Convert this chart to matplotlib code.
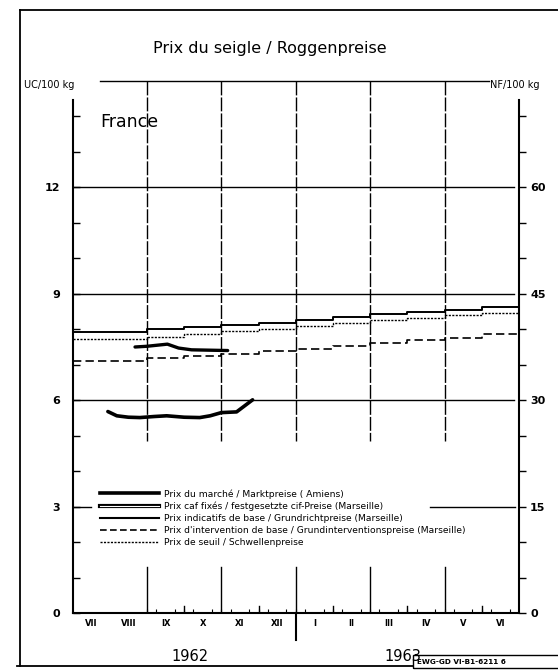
import numpy as np
import matplotlib.pyplot as plt
from matplotlib.lines import Line2D
from matplotlib.patches import Rectangle
from matplotlib.legend_handler import HandlerTuple
import matplotlib.transforms as mtransforms

# month boundaries: 0 = start of July 1962, 12 = end of June 1963
month_edges = np.arange(13)
month_labels = ['VII', 'VIII', 'IX', 'X', 'XI', 'XII', 'I', 'II', 'III', 'IV', 'V', 'VI']

# monthly step prices (UC / 100 kg), Marseille
indicatifs = [7.92, 7.92, 8.00, 8.06, 8.12, 8.18, 8.26, 8.34, 8.43, 8.49, 8.54, 8.62]
seuil = [7.73, 7.73, 7.78, 7.87, 7.95, 8.00, 8.09, 8.18, 8.26, 8.32, 8.40, 8.46]
intervention = [7.11, 7.11, 7.19, 7.25, 7.31, 7.39, 7.45, 7.53, 7.61, 7.70, 7.76, 7.87]

# market price, Amiens
marche_x = [0.95, 1.19, 1.50, 1.81, 2.20, 2.53, 3.00, 3.42, 3.70, 4.00, 4.41, 4.84]
marche_y = [5.68, 5.56, 5.52, 5.51, 5.54, 5.56, 5.52, 5.51, 5.56, 5.65, 5.67, 6.01]

# fixed cif prices, Marseille
caf_x = [1.68, 2.00, 2.55, 2.85, 3.20, 4.17]
caf_y = [7.50, 7.52, 7.58, 7.47, 7.42, 7.40]

left_ticks = [0, 3, 6, 9, 12]
right_ticks = [0, 15, 30, 45, 60]
nf_per_uc = 5

fig = plt.figure(figsize=(5.58, 6.72), dpi=100)
ax = fig.add_axes([0.13, 0.0878, 0.8, 0.7917])
ax.set_xlim(0, 12)
ax.set_ylim(0, 15)

def steps(v):
    return list(v) + [v[-1]]

ax.plot(month_edges, steps(indicatifs), drawstyle='steps-post', color='black', lw=1.4)
ax.plot(month_edges, steps(seuil), drawstyle='steps-post', color='black', lw=1.0, dashes=(1.5, 1))
ax.plot(month_edges, steps(intervention), drawstyle='steps-post', color='black', lw=1.2, dashes=(5, 2.5))
ax.plot(marche_x, marche_y, color='black', lw=2.6, solid_capstyle='round')
ax.plot(caf_x, caf_y, color='black', lw=2.4, solid_capstyle='round')

# grid
for v in [6, 9, 12]:
    ax.axhline(v, color='black', lw=1.0, xmax=0.99)
ax.plot([0, 0.5], [3, 3], color='black', lw=1.0)
ax.plot([9.6, 11.9], [3, 3], color='black', lw=1.0)
for m in [2, 4, 6, 8, 10]:
    ax.plot([m, m], [15, 4.85], color='black', lw=1.0, dashes=(10, 1.5))
    ax.plot([m, m], [1.3, 0], color='black', lw=1.0)
# year separator below the axis
ax.plot([6, 6], [0, -0.75], color='black', lw=1.5, clip_on=False)
# medium ticks at odd month boundaries
for m in [3, 5, 7, 9, 11]:
    ax.plot([m, m], [0, 0.2], color='black', lw=1.0)

# header line
ax.plot([0.75, 11.2], [15, 15], color='black', lw=1.0, clip_on=False)

# spines
for s in ['top', 'right']:
    ax.spines[s].set_visible(False)
ax.spines['left'].set_bounds(0, 14.45)
ax.spines['left'].set_linewidth(1.5)
ax.spines['bottom'].set_linewidth(1.5)

ax.set_yticks(np.arange(0, 15, 1))
ax.set_yticklabels([str(v) if v in left_ticks else '' for v in range(15)],
                   fontsize=8, fontweight='bold')
ax.tick_params(axis='y', direction='in', length=5, width=1, pad=9)

ax.set_xticks(np.arange(0.5, 12, 1))
ax.set_xticklabels(month_labels, fontsize=6, fontweight='bold')
ax.tick_params(axis='x', which='major', length=0, pad=4)
ax.set_xticks(np.arange(2, 12, 0.25), minor=True)
ax.tick_params(axis='x', which='minor', direction='in', length=3, width=0.8)

ax2 = ax.twinx()
ax2.set_ylim(0, 15 * nf_per_uc)
for s in ['top', 'left', 'bottom']:
    ax2.spines[s].set_visible(False)
ax2.spines['right'].set_bounds(0, 14.45 * nf_per_uc)
ax2.spines['right'].set_linewidth(1.5)
ax2.set_yticks(np.arange(0, 75, 5))
ax2.set_yticklabels([str(v) if v in right_ticks else '' for v in range(0, 75, 5)],
                    fontsize=8, fontweight='bold')
ax2.tick_params(axis='y', direction='out', length=5, width=1, pad=3)

# legend
handles = [
    Line2D([], [], color='black', lw=2.6),
    (Line2D([], [], color='black', lw=3.0), Line2D([], [], color='white', lw=0.8)),
    Line2D([], [], color='black', lw=1.5),
    Line2D([], [], color='black', lw=1.2, dashes=(4, 2)),
    Line2D([], [], color='black', lw=1.0, dashes=(1.5, 1)),
]
labels = [
    'Prix du marché / Marktpreise ( Amiens)',
    'Prix caf fixés / festgesetzte cif-Preise (Marseille)',
    'Prix indicatifs de base / Grundrichtpreise (Marseille)',
    "Prix d'intervention de base / Grundinterventionspreise (Marseille)",
    'Prix de seuil / Schwellenpreise',
]
ax.legend(handles, labels, loc='upper left', bbox_to_anchor=(0.062, 0.233),
          frameon=False, fontsize=6.6, handlelength=6.4, handletextpad=0.6,
          labelspacing=0.32, borderpad=0, borderaxespad=0,
          handler_map={tuple: HandlerTuple(ndivide=1, pad=0)})

ax.text(0.062, 0.923, 'France', transform=ax.transAxes, fontsize=12.5,
        ha='left', va='center')

trans = mtransforms.blended_transform_factory(ax.transData, ax.transAxes)
ax.text(3.16, -0.081, '1962', transform=trans, fontsize=10.5, ha='center', va='center')
ax.text(8.88, -0.081, '1963', transform=trans, fontsize=10.5, ha='center', va='center')

fig.text(270 / 558, 1 - 48 / 672, 'Prix du seigle / Roggenpreise', fontsize=11.5,
         ha='center', va='center')
fig.text(24 / 558, 1 - 85 / 672, 'UC/100 kg', fontsize=7, ha='left', va='center')
fig.text(490 / 558, 1 - 85 / 672, 'NF/100 kg', fontsize=7, ha='left', va='center')

# outer frame
fig.add_artist(Line2D([20 / 558, 20 / 558], [1 - 10 / 672, 1 - 666 / 672],
                      color='black', lw=1.3, transform=fig.transFigure))
fig.add_artist(Line2D([20 / 558, 1.0], [1 - 10 / 672, 1 - 10 / 672],
                      color='black', lw=1.3, transform=fig.transFigure))
fig.add_artist(Line2D([17 / 558, 413 / 558], [1 - 666 / 672, 1 - 666 / 672],
                      color='black', lw=1.3, transform=fig.transFigure))
fig.add_artist(Rectangle((413 / 558, 1 - 668 / 672), 150 / 558, 13 / 672,
                         fill=False, edgecolor='black', lw=1.0, transform=fig.transFigure))
fig.text(417 / 558, 1 - 661.5 / 672, 'EWG-GD VI-B1-6211 6', fontsize=5.2,
         ha='left', va='center', fontweight='bold')

fig.savefig('out.png', dpi=100)
